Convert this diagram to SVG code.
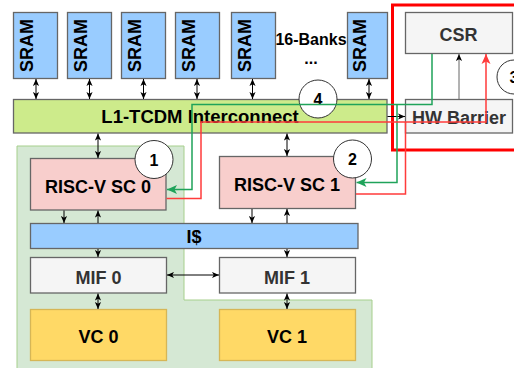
<svg xmlns="http://www.w3.org/2000/svg" width="514" height="368" viewBox="0 0 514 368">
  <style>
    text { font-family: "Liberation Sans", Arial, sans-serif; font-weight: bold; font-size: 18px; text-anchor: middle; }
    .box { stroke: #666666; stroke-width: 1.3; }
    .sram { fill: #99ccff; }
    .noc { fill: #cdeb8b; }
    .gray { fill: #f5f5f5; }
    .core { fill: #f8cecc; }
    .cache { fill: #99ccff; }
    .vc { fill: #ffd966; stroke: #d6b656; stroke-width: 1.3; }
    .dark { fill: #333333; }
    .num { font-size: 16px; }
    .badge { fill: #ffffff; stroke: #333333; stroke-width: 1; }
    .link { fill: none; stroke: #000000; stroke-width: 1; }
    .bi { marker-start: url(#ah); marker-end: url(#ah); }
    .uni { marker-end: url(#ah); }
  </style>
  <defs>
    <marker id="ah" viewBox="0 0 8 8" refX="8" refY="4" markerWidth="7" markerHeight="7" orient="auto-start-reverse" markerUnits="userSpaceOnUse">
      <path d="M0,0.5 L8,4 L0,7.5 L2,4 z" fill="#000000"/>
    </marker>
    <marker id="ahg" viewBox="0 0 10 10" refX="10" refY="5" markerWidth="10" markerHeight="10" orient="auto" markerUnits="userSpaceOnUse">
      <path d="M0,0.5 L10,5 L0,9.5 L2.5,5 z" fill="#1fa35a"/>
    </marker>
    <marker id="ahr" viewBox="0 0 10 10" refX="10" refY="5" markerWidth="10" markerHeight="10" orient="auto" markerUnits="userSpaceOnUse">
      <path d="M0,0.5 L10,5 L0,9.5 L2.5,5 z" fill="#ff3b3b"/>
    </marker>
  </defs>

  <!-- cluster background -->
  <path id="cluster" d="M17,146 H184 V300 H372 V372 H17 Z" fill="#d5e8d4" stroke="#a6cf8c" stroke-width="1"/>

  <!-- memory banks -->
  <g id="sram0"><rect class="box sram" x="13.5" y="12.5" width="44" height="66"/><text transform="translate(33,45.5) rotate(-90)">SRAM</text></g>
  <g id="sram1"><rect class="box sram" x="67.5" y="12.5" width="44" height="66"/><text transform="translate(87,45.5) rotate(-90)">SRAM</text></g>
  <g id="sram2"><rect class="box sram" x="121.5" y="12.5" width="44" height="66"/><text transform="translate(141,45.5) rotate(-90)">SRAM</text></g>
  <g id="sram3"><rect class="box sram" x="175.5" y="12.5" width="44" height="66"/><text transform="translate(195,45.5) rotate(-90)">SRAM</text></g>
  <g id="sram4"><rect class="box sram" x="231.5" y="12.5" width="44" height="66"/><text transform="translate(251,45.5) rotate(-90)">SRAM</text></g>
  <g id="sram15"><rect class="box sram" x="347.5" y="12.5" width="40" height="66"/><text transform="translate(366,45.5) rotate(-90)">SRAM</text></g>
  <g id="banks-label">
    <text x="311" y="45" style="font-size:16px">16-Banks</text>
    <text x="311" y="64" style="font-size:16px">...</text>
  </g>

  <!-- interconnect -->
  <g id="interconnect"><rect class="box noc" x="13.5" y="99.5" width="373.5" height="33.5"/><text x="200" y="122.5" style="font-size:18.5px">L1-TCDM Interconnect</text></g>

  <!-- sync unit -->
  <g id="csr"><rect class="box gray" x="405.5" y="12.5" width="107" height="41"/><text class="dark" x="458.5" y="40.5">CSR</text></g>
  <g id="hw-barrier"><rect class="box gray" x="405.5" y="99.5" width="107" height="33.5"/><text class="dark" x="459" y="123.5">HW Barrier</text></g>

  <!-- cores and memory path -->
  <g id="sc0"><rect class="box core" x="30.5" y="158.5" width="135.5" height="51.5"/><text x="98" y="193">RISC-V SC 0</text></g>
  <g id="sc1"><rect class="box core" x="219.5" y="156.5" width="136" height="52"/><text x="287" y="191">RISC-V SC 1</text></g>
  <g id="icache"><rect class="box cache" x="30.5" y="223.5" width="327.5" height="25"/><text x="194" y="243">I$</text></g>
  <g id="mif0"><rect class="box gray" x="30.5" y="257.5" width="136" height="35.5"/><text class="dark" x="98.5" y="284">MIF 0</text></g>
  <g id="mif1"><rect class="box gray" x="219.5" y="257.5" width="136" height="35.5"/><text class="dark" x="287" y="284">MIF 1</text></g>
  <g id="vc0"><rect class="vc" x="30.5" y="309.5" width="136" height="51"/><text x="98.5" y="343">VC 0</text></g>
  <g id="vc1"><rect class="vc" x="219.5" y="309.5" width="136" height="51"/><text x="287" y="343">VC 1</text></g>

  <!-- step badges -->
  <g id="step1"><circle class="badge" cx="154" cy="159.5" r="19"/><text class="num" x="154" y="165.5">1</text></g>
  <g id="step2"><circle class="badge" cx="352.5" cy="159" r="19"/><text class="num" x="352.5" y="165">2</text></g>
  <g id="step3"><circle class="badge" cx="514" cy="77" r="17"/><text class="num" x="514" y="83">3</text></g>
  <g id="step4"><circle class="badge" cx="318" cy="99" r="19"/><text class="num" x="318" y="105">4</text></g>

  <!-- sync unit boundary -->
  <rect id="sync-frame" x="392.5" y="5" width="130" height="145" fill="none" stroke="#ff0000" stroke-width="3"/>

  <g id="connectors">
    <path class="link bi" d="M36,79 V99"/>
    <path class="link bi" d="M89.5,79 V99"/>
    <path class="link bi" d="M143.5,79 V99"/>
    <path class="link bi" d="M197,79 V99"/>
    <path class="link bi" d="M252.5,79 V99"/>
    <path class="link bi" d="M369,79 V99"/>
    <path class="link bi" d="M98,133.5 V158"/>
    <path class="link bi" d="M287,133.5 V156"/>
    <path class="link uni" d="M64,210.5 V223"/>
    <path class="link uni" d="M98,223 V210.5"/>
    <path class="link uni" d="M252,209 V223"/>
    <path class="link uni" d="M287,223 V209"/>
    <path class="link uni" d="M98,249 V257"/>
    <path class="link uni" d="M287,249 V257"/>
    <path class="link bi" d="M167,275 H219"/>
    <path class="link bi" d="M98,293.5 V309"/>
    <path class="link bi" d="M287,293.5 V309"/>
    <path class="link uni" d="M387.5,116.5 H405"/>
    <path class="uni" d="M459,99 V54" fill="none" stroke="#666666" stroke-width="1"/>
    <!-- release path: CSR back to the cores -->
    <path d="M432,54 V104.5 H192 V189.5 H167" fill="none" stroke="#1fa35a" stroke-width="1.5" marker-end="url(#ahg)"/>
    <path d="M397,104.5 V182.5 H356.5" fill="none" stroke="#1fa35a" stroke-width="1.5" marker-end="url(#ahg)"/>
    <!-- arrival path: cores to CSR -->
    <path d="M166.5,198.5 H201 V122 H486 V54" fill="none" stroke="#ff3b3b" stroke-width="1.5" marker-end="url(#ahr)"/>
    <path d="M356,194 H405.5 V122" fill="none" stroke="#ff3b3b" stroke-width="1.5"/>
  </g>
</svg>
